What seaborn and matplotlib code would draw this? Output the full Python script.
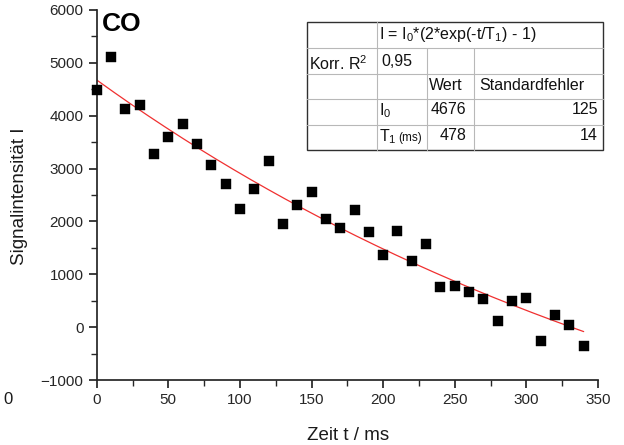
import numpy as np
import pandas as pd
import matplotlib
matplotlib.use("Agg")
import matplotlib.pyplot as plt
from matplotlib.patches import Rectangle
from matplotlib.ticker import MultipleLocator
import seaborn as sns

# Measured signal intensities for CO at each delay time
zeit_ms = [0, 10, 20, 30, 40, 50, 60, 70, 80, 90, 100, 110, 120, 130, 140, 150,
           160, 170, 180, 190, 200, 210, 220, 230, 240, 250, 260, 270, 280, 290,
           300, 310, 320, 330, 340]
signal = [4484, 5114, 4130, 4200, 3267, 3595, 3841, 3462, 3071, 2711, 2232, 2617,
          3147, 1943, 2308, 2548, 2043, 1867, 2213, 1797, 1356, 1822, 1249, 1564,
          751, 782, 656, 536, 120, 492, 549, -265, 227, 44, -359]

# Fit parameters: I = I0*(2*exp(-t/T1) - 1)
I0_wert, I0_fehler = 4676, 125
T1_wert, T1_fehler = 478, 14
r2_korr = "0,95"

x_ticks = [0, 50, 100, 150, 200, 250, 300, 350]
y_ticks = [-1000, 0, 1000, 2000, 3000, 4000, 5000, 6000]

sns.set_theme(style="ticks")
plt.rcParams["font.family"] = ["Liberation Sans", "DejaVu Sans"]
plt.rcParams["mathtext.fontset"] = "custom"
plt.rcParams["mathtext.rm"] = "Liberation Sans"
plt.rcParams["mathtext.it"] = "Liberation Sans"
plt.rcParams["mathtext.default"] = "regular"

W, H = 624, 445
fig = plt.figure(figsize=(W / 100, H / 100), dpi=100)
ax = fig.add_axes([96.7 / W, 1 - 380 / H, (598 - 96.7) / W, 370 / H])

df = pd.DataFrame({"t": zeit_ms, "I": signal})
sns.scatterplot(data=df, x="t", y="I", ax=ax, marker="s", s=48, color="black",
                edgecolor="black", linewidth=0.3, zorder=3, clip_on=False)

t_fit = np.linspace(0, max(zeit_ms), 200)
ax.plot(t_fit, I0_wert * (2 * np.exp(-t_fit / T1_wert) - 1), color="#f03030", lw=0.9, zorder=2)

ax.set_xlim(0, 350)
ax.set_ylim(-1000, 6000)
ax.set_xticks(x_ticks)
ax.set_yticks(y_ticks)
ax.xaxis.set_minor_locator(MultipleLocator(25))
ax.yaxis.set_minor_locator(MultipleLocator(500))
ax.spines["top"].set_visible(False)
ax.spines["right"].set_visible(False)
ax.set_xlabel("")
ax.set_ylabel("")

fig.text(348 / W, 1 - 436 / H, "Zeit t / ms", ha="center", va="center", fontsize=13.5, color="#1a1a1a")
fig.text(20 / W, 1 - 196 / H, "Signalintensität I", ha="center", va="center",
         rotation=90, fontsize=13.5, color="#1a1a1a")
fig.text(8 / W, 1 - 400 / H, "0", ha="center", va="center", fontsize=12, color="#1a1a1a")
fig.text(102 / W, 1 - 24 / H, "CO", ha="left", va="center", fontsize=19,
         fontweight="bold", color="black")

# Fit result table, drawn in its own pixel-based axes
cx = [307, 377, 427, 474, 603]
ry = [22, 48, 74, 99, 125, 150]
tab = fig.add_axes([cx[0] / W - 0.005, 1 - ry[-1] / H - 0.005,
                    (cx[-1] - cx[0]) / W + 0.01, (ry[-1] - ry[0]) / H + 0.01], zorder=5)
tab.set_xlim(cx[0] - 0.005 * W, cx[-1] + 0.005 * W)
tab.set_ylim(ry[-1] + 0.005 * H, ry[0] - 0.005 * H)
tab.axis("off")
tab.add_patch(Rectangle((cx[0], ry[0]), cx[-1] - cx[0], ry[-1] - ry[0],
                        facecolor="white", edgecolor="#303030", lw=1.0, zorder=1))
inner = "#b8b8b8"
for y in ry[1:-1]:
    tab.plot([cx[0], cx[-1]], [y, y], color=inner, lw=0.8, zorder=2)
tab.plot([cx[1]] * 2, [ry[0], ry[-1]], color=inner, lw=0.8, zorder=2)
for x in cx[2:4]:
    tab.plot([x] * 2, [ry[1], ry[-1]], color=inner, lw=0.8, zorder=2)

tk = dict(fontsize=11.5, color="#111111", zorder=3, va="center")
tab.text(379, 35, "I = I$_0$*(2*exp(-t/T$_1$) - 1)", ha="left", **tk)
tab.text(309, 64, "Korr. R$^2$", ha="left", **tk)
tab.text(381, 61, r2_korr, ha="left", **tk)
tab.text(429, 86, "Wert", ha="left", **tk)
tab.text(479, 86, "Standardfehler", ha="left", **tk)
tab.text(379, 111, "I$_0$", ha="left", **tk)
tab.text(466, 109, str(I0_wert), ha="right", **tk)
tab.text(598, 109, str(I0_fehler), ha="right", **tk)
tab.text(379, 137, "T$_1$", ha="left", **tk)
tab.text(398, 138, "(ms)", ha="left", fontsize=8.5, color="#111111", zorder=3, va="center")
tab.text(466, 135, str(T1_wert), ha="right", **tk)
tab.text(598, 135, str(T1_fehler), ha="right", **tk)

fig.savefig("out.png", dpi=100)
